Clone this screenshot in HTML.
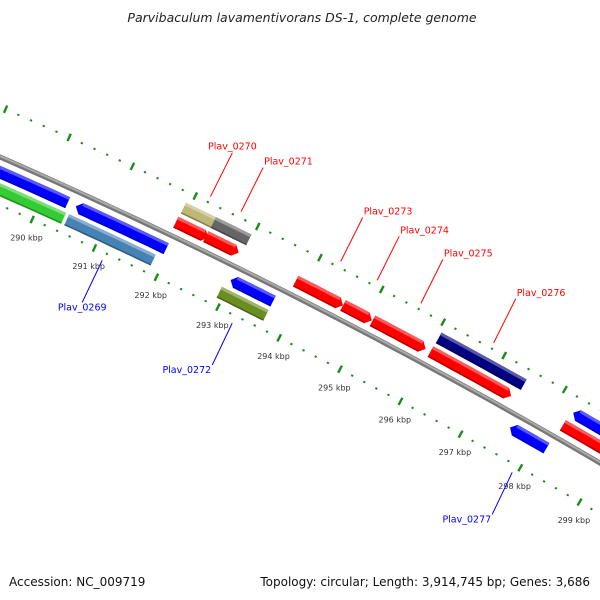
<!DOCTYPE html>
<html><head><meta charset="utf-8"><style>
html,body{margin:0;padding:0;background:#fff;}
svg{display:block;font-family:"DejaVu Sans","Liberation Sans",sans-serif;}
</style></head><body>
<svg id="chart" width="600" height="600" viewBox="0 0 600 600" xmlns="http://www.w3.org/2000/svg">
<rect width="600" height="600" fill="#fff"/>
<text x="302" y="22" text-anchor="middle" font-size="12.5" font-style="italic" fill="#222">Parvibaculum lavamentivorans DS-1, complete genome</text>
<g id="ticks"></g>
<g id="backbone"></g>
<g id="genes"></g>
<g id="labels"></g>
<text x="9" y="586" font-size="12" fill="#111">Accession: NC_009719</text>
<text x="590" y="586" text-anchor="end" font-size="12" fill="#111">Topology: circular; Length: 3,914,745 bp; Genes: 3,686</text>
</svg>
<script>
// data
const geneStart = [288.0, 290.50, 292.99, 297.58, 298.27, 288.0, 290.46, 292.92, 291.91, 292.39, 293.84, 294.61, 295.09, 296.04, 298.23, 291.92, 292.40, 296.05];
const geneEnd   = [290.37, 291.95, 293.68, 298.19, 300.5, 290.41, 291.85, 293.68, 292.43, 292.92, 294.61, 295.08, 295.96, 297.37, 300.5, 292.48, 292.97, 297.45];
const geneTrack = [-14, -14, -14, -14, 30, -30, -30, -30, 14, 14, 14, 14, 14, 14, 14, 30, 30, 30];
const geneColor = ["#0000ff","#0000ff","#0000ff","#0000ff","#0000ff","#33cc33","#4682b4","#6b8e23","#ff0000","#ff0000","#ff0000","#ff0000","#ff0000","#ff0000","#ff0000","#bdb877","#666666","#000080"];
const geneStrand = [0, -1, -1, -1, -1, 0, 0, 0, 1, 1, 1, 1, 1, 1, 0, 0, 0, 0];
const tickKbp = [289, 290, 291, 292, 293, 294, 295, 296, 297, 298, 299, 300];
const tickLabels = ["289 kbp","290 kbp","291 kbp","292 kbp","293 kbp","294 kbp","295 kbp","296 kbp","297 kbp","298 kbp","299 kbp","300 kbp"];
const labelNames = ["Plav_0270","Plav_0271","Plav_0273","Plav_0274","Plav_0275","Plav_0276","Plav_0269","Plav_0272","Plav_0277"];
const labelK     = [292.20, 292.69, 294.29, 294.88, 295.59, 296.78, 291.18, 293.29, 297.93];
const labelSide  = [1, 1, 1, 1, 1, 1, -1, -1, -1];
const labelAnchor = ["middle","start","start","start","start","start","middle","end","end"];
const labelColor = ["#ff0000","#ff0000","#ff0000","#ff0000","#ff0000","#ff0000","#0000ff","#0000ff","#0000ff"];

const NS="http://www.w3.org/2000/svg";
function mk(tag, attrs, parent){const e=document.createElementNS(NS,tag);for(const k in attrs)e.setAttribute(k,attrs[k]);parent.appendChild(e);return e;}
const p1=[0,157],p2=[290,294],p3=[600,463];
function circ(a,b,c){const d=2*(a[0]*(b[1]-c[1])+b[0]*(c[1]-a[1])+c[0]*(a[1]-b[1]));
const ux=((a[0]**2+a[1]**2)*(b[1]-c[1])+(b[0]**2+b[1]**2)*(c[1]-a[1])+(c[0]**2+c[1]**2)*(a[1]-b[1]))/d;
const uy=((a[0]**2+a[1]**2)*(c[0]-b[0])+(b[0]**2+b[1]**2)*(a[0]-c[0])+(c[0]**2+c[1]**2)*(b[0]-a[0]))/d;return [ux,uy];}
const C=circ(p1,p2,p3);const R=Math.hypot(p1[0]-C[0],p1[1]-C[1]);
const a0=Math.atan2(p1[1]-C[1],p1[0]-C[0]);const a3=Math.atan2(p3[1]-C[1],p3[0]-C[0]);
const sg=Math.sign(a3-a0);
const S290=55, L=69;
function ang(k){return a0+sg*(S290+(k-290)*L)/R;}
function P(k,d){const a=ang(k);const r=R+d;return [C[0]+r*Math.cos(a),C[1]+r*Math.sin(a)];}
function pts(arr){return arr.map(p=>p[0].toFixed(1)+","+p[1].toFixed(1)).join(" ");}

// ticks
const tg=document.getElementById('ticks');
[46,-44].forEach(function(d){
  for(let i=0;i<=65;i++){
    const k=288.4+i*0.2;const isMajor=Math.abs(k-Math.round(k))<0.01;
    const a=P(k,d-(isMajor?4:1)),b=P(k,d+(isMajor?4:1));
    const t=mk('line',{x1:a[0],y1:a[1],x2:b[0],y2:b[1],stroke:'#1a8c1a','stroke-width':isMajor?2.4:2.2},tg);
    
    
  }
});
tickKbp.forEach(function(k,i){
  const p=P(k,-44);
  const t=mk('text',{x:(p[0]-22).toFixed(1),y:(p[1]+21).toFixed(1),'font-size':'8',fill:'#333'},tg);
  t.textContent=tickLabels[i];
  
  
});

// backbone
const bg=document.getElementById('backbone');
function arcPath(d){const a=[];for(let k=287;k<=301;k+=0.25)a.push(P(k,d));return "M"+pts(a).replace(/ /g," L");}
mk('path',{d:arcPath(0),fill:'none',stroke:'#777','stroke-width':5},bg);
mk('path',{d:arcPath(0.8),fill:'none',stroke:'#aaa','stroke-width':2},bg);

// genes
function shade(hex,f){const n=parseInt(hex.slice(1),16);let r=n>>16,g=(n>>8)&255,b=n&255;
 if(f>0){r+= (255-r)*f;g+=(255-g)*f;b+=(255-b)*f;}else{r*=1+f;g*=1+f;b*=1+f;}
 return "rgb("+Math.round(r)+","+Math.round(g)+","+Math.round(b)+")";}
const gg=document.getElementById('genes');
const H=6, AH=0.08;
for(let i=0;i<geneStart.length;i++){
  const s=geneStart[i],e=geneEnd[i],d=geneTrack[i],st=geneStrand[i],col=geneColor[i];
  const bs=st<0?s+AH:s, be=st>0?e-AH:e;
  const top=[],bot=[];const n=12;
  for(let j=0;j<=n;j++){const k=bs+(be-bs)*j/n;top.push(P(k,d+H));bot.push(P(k,d-H));}
  let poly=[];
  if(st<0)poly.push(P(s,d));
  poly=poly.concat(top);
  if(st>0)poly.push(P(e,d));
  poly=poly.concat(bot.reverse());
  const g=mk('g',{},gg);
  
  
  mk('polygon',{points:pts(poly),fill:col},g);
  const lt=[],lb=[];
  for(let j=0;j<=n;j++){const k=bs+(be-bs)*j/n;lt.push(P(k,d+H));lb.push(P(k,d+H-3));}
  mk('polygon',{points:pts(lt.concat(lb.reverse())),fill:shade(col,0.35)},g);
  const dt=[],db=[];
  for(let j=0;j<=n;j++){const k=bs+(be-bs)*j/n;dt.push(P(k,d-H+1.5));db.push(P(k,d-H));}
  mk('polygon',{points:pts(dt.concat(db.reverse())),fill:shade(col,-0.3)},g);
}

// labels
const lg=document.getElementById('labels');
for(let i=0;i<labelNames.length;i++){
  const up=labelSide[i]>0;
  const a=P(labelK[i], up?52:-52);
  const bx=a[0]+(up?22:-20), by=a[1]+(up?-44:42);
  const ln=mk('line',{x1:a[0].toFixed(1),y1:a[1].toFixed(1),x2:bx.toFixed(1),y2:by.toFixed(1),stroke:labelColor[i],'stroke-width':1},lg);
  
  
  const anc=labelAnchor[i];
  let tx=bx, ty;
  if(up){ty=by-3; if(anc==='start')tx=bx+1;}
  else{ty=by+8; if(anc==='end')tx=bx-1;}
  const t=mk('text',{x:tx.toFixed(1),y:ty.toFixed(1),'font-size':'9.5',fill:labelColor[i],'text-anchor':anc},lg);
  t.textContent=labelNames[i];
  
  
}
</script>
</body></html>
